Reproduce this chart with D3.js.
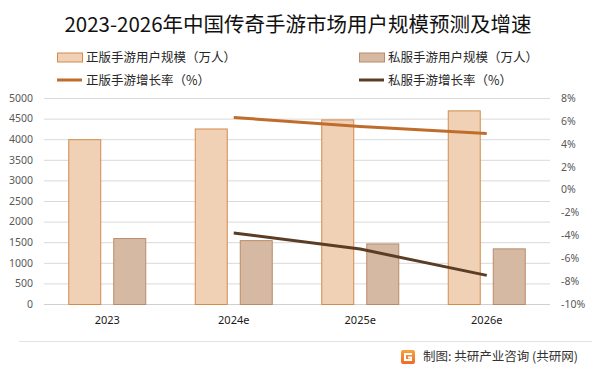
<!DOCTYPE html>
<html>
<head>
<meta charset="utf-8">
<script src="https://cdn.jsdelivr.net/npm/d3@7"></script>
<style>
  body { margin: 0; background: #fff; }
  #chart svg { display: block; }
</style>
</head>
<body>
<div id="chart"></div>
<script>
// data
var categories = ["2023", "2024e", "2025e", "2026e"];
var officialUsers = [4000, 4260, 4480, 4700];   // 正版手游用户规模（万人）
var privateUsers = [1600, 1550, 1470, 1350];    // 私服手游用户规模（万人）
var officialGrowth = [null, 6.3, 5.5, 4.9];     // 正版手游增长率（%）
var privateGrowth = [null, -3.8, -5.2, -7.5];   // 私服手游增长率（%）
var leftTicks = [0, 500, 1000, 1500, 2000, 2500, 3000, 3500, 4000, 4500, 5000];
var rightTicks = [-10, -8, -6, -4, -2, 0, 2, 4, 6, 8];

//setup
var W = 602, H = 374;
var plot = { left: 44, right: 550, top: 98, bottom: 304 };
var cjk = "'Noto Sans CJK SC', 'Noto Sans', sans-serif";
var colors = {
    officialFill: "#f0d1b6", officialStroke: "#d38b4c",
    privateFill: "#d6b9a3", privateStroke: "#b98b69",
    officialLine: "#bf6d2c", privateLine: "#5b3d26"
};

const svg = d3.select("#chart").append("svg")
    .attr("width", W)
    .attr("height", H)
    .style("font-family", cjk);

svg.append("rect").attr("width", W).attr("height", H).attr("fill", "#fff");

const x0 = d3.scaleBand().domain(categories).range([plot.left, plot.right]);
const x1 = d3.scaleBand().domain(["official", "private"])
    .range([x0.bandwidth() / 2 - 39, x0.bandwidth() / 2 + 39])
    .paddingInner(0.267);
const y = d3.scaleLinear().domain([0, 5000]).range([plot.bottom, plot.top]);
const y2 = d3.scaleLinear().domain([-10, 8]).range([plot.bottom, plot.top]);

// grid
svg.append("g")
    .selectAll("line")
    .data(leftTicks)
    .join("line")
    .attr("x1", plot.left).attr("x2", plot.right)
    .attr("y1", d => y(d) + 0.5).attr("y2", d => y(d) + 0.5)
    .attr("stroke", d => d === 0 ? "#d0d0d0" : "#d9d9d9")
    .attr("stroke-width", 1);

// left axis
const yAxis = d3.axisLeft(y).tickValues(leftTicks).tickSize(0).tickPadding(0)
    .tickFormat(d3.format("d"));
svg.append("g")
    .attr("transform", "translate(33,0)")
    .call(yAxis)
    .call(g => g.select(".domain").remove())
    .selectAll("text")
    .attr("font-family", "'Noto Sans', sans-serif")
    .attr("font-size", 10.5)
    .attr("fill", "#595959");

// right axis
const y2Axis = d3.axisRight(y2).tickValues(rightTicks).tickSize(0).tickPadding(0)
    .tickFormat(d => d + "%");
svg.append("g")
    .attr("transform", "translate(561,0)")
    .call(y2Axis)
    .call(g => g.select(".domain").remove())
    .selectAll("text")
    .attr("font-family", "'Noto Sans', sans-serif")
    .attr("font-size", 10.5)
    .attr("fill", "#595959");

// x axis labels
const xAxis = d3.axisBottom(x0).tickSize(0).tickPadding(0);
svg.append("g")
    .attr("transform", "translate(0,316)")
    .call(xAxis)
    .call(g => g.select(".domain").remove())
    .selectAll("text")
    .attr("font-family", "'Noto Sans', sans-serif")
    .attr("font-size", 11)
    .attr("fill", "#1a1a1a");

// bars
var rows = categories.map(function (c, i) {
    return { cat: c, official: officialUsers[i], private: privateUsers[i] };
});
const groups = svg.append("g").selectAll("g")
    .data(rows)
    .join("g")
    .attr("transform", d => "translate(" + x0(d.cat) + ",0)");

groups.append("rect")
    .attr("x", x1("official") + 0.5)
    .attr("y", d => y(d.official) + 0.5)
    .attr("width", x1.bandwidth() - 1)
    .attr("height", d => y(0) - y(d.official))
    .attr("fill", colors.officialFill)
    .attr("stroke", colors.officialStroke)
    .attr("stroke-width", 1);

groups.append("rect")
    .attr("x", x1("private") + 0.5)
    .attr("y", d => y(d.private) + 0.5)
    .attr("width", x1.bandwidth() - 1)
    .attr("height", d => y(0) - y(d.private))
    .attr("fill", colors.privateFill)
    .attr("stroke", colors.privateStroke)
    .attr("stroke-width", 1);

// lines
function growthLine(vals) {
    return d3.line()
        .defined(d => d != null)
        .x((d, i) => x0(categories[i]) + x0.bandwidth() / 2)
        .y(d => y2(d))(vals);
}
svg.append("path")
    .attr("d", growthLine(officialGrowth))
    .attr("fill", "none")
    .attr("stroke", colors.officialLine)
    .attr("stroke-width", 3)
    .attr("stroke-linejoin", "round");
svg.append("path")
    .attr("d", growthLine(privateGrowth))
    .attr("fill", "none")
    .attr("stroke", colors.privateLine)
    .attr("stroke-width", 3)
    .attr("stroke-linejoin", "round");

// title
svg.append("text")
    .attr("x", 298).attr("y", 32)
    .attr("text-anchor", "middle")
    .attr("font-size", 20.5)
    .attr("fill", "#111")
    .text("2023-2026年中国传奇手游市场用户规模预测及增速");

// legend
var legend = [
    { label: "正版手游用户规模（万人）", type: "rect", fill: colors.officialFill, stroke: colors.officialStroke, x: 57, y: 57.5 },
    { label: "私服手游用户规模（万人）", type: "rect", fill: colors.privateFill, stroke: colors.privateStroke, x: 359, y: 57.5 },
    { label: "正版手游增长率（%）", type: "line", stroke: colors.officialLine, x: 57, y: 80 },
    { label: "私服手游增长率（%）", type: "line", stroke: colors.privateLine, x: 359, y: 80 }
];
legend.forEach(function (l) {
    if (l.type === "rect") {
        svg.append("rect")
            .attr("x", l.x + 0.5).attr("y", l.y - 4.5)
            .attr("width", 25).attr("height", 9)
            .attr("fill", l.fill).attr("stroke", l.stroke);
    } else {
        svg.append("line")
            .attr("x1", l.x).attr("x2", l.x + 25)
            .attr("y1", l.y).attr("y2", l.y)
            .attr("stroke", l.stroke).attr("stroke-width", 3);
    }
    svg.append("text")
        .attr("x", l.x + 29).attr("y", l.y)
        .attr("dy", "0.36em")
        .attr("font-size", 12.5)
        .attr("fill", "#262626")
        .text(l.label);
});

// footer
svg.append("line")
    .attr("x1", 19).attr("x2", 592)
    .attr("y1", 341.5).attr("y2", 341.5)
    .attr("stroke", "#e3e3e3");

var logo = svg.append("g").attr("transform", "translate(401,350)");
var grad = svg.append("defs").append("linearGradient")
    .attr("id", "lg").attr("x1", 0).attr("y1", 0).attr("x2", 0).attr("y2", 1);
grad.append("stop").attr("offset", 0).attr("stop-color", "#f7a23c");
grad.append("stop").attr("offset", 1).attr("stop-color", "#ef6a2a");
logo.append("rect").attr("width", 14).attr("height", 14).attr("rx", 2).attr("fill", "url(#lg)");
logo.append("path")
    .attr("d", "M11,4 H4 V10 H10 V7.5 H7")
    .attr("fill", "none").attr("stroke", "#fff").attr("stroke-width", 2);

svg.append("text")
    .attr("x", 423).attr("y", 357)
    .attr("dy", "0.35em")
    .attr("font-size", 12.5)
    .attr("fill", "#333")
    .text("制图: 共研产业咨询 (共研网)");
</script>
</body>
</html>
